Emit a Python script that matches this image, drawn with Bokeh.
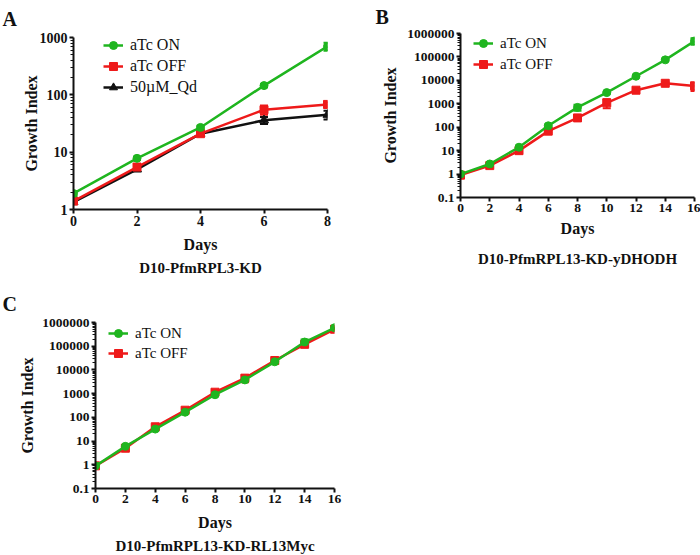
from bokeh.plotting import figure
from bokeh.models import (Range1d, FixedTicker, Legend, LegendItem, Whisker, TeeHead,
                          ColumnDataSource, Title)
from bokeh.layouts import column, row
from bokeh.embed import file_html
from bokeh.resources import INLINE

# ---------------- data ----------------
days_A = [0, 2, 4, 6, 8]
on_A = [1.9, 7.8, 27, 145, 700]
on_A_err = [0.2, 0.5, 2, 10, 110]
off_A = [1.4, 5.5, 21, 55, 68]
off_A_err = [0.1, 0.5, 1.5, 10, 8]
qd_A = [1.35, 5.0, 21, 36, 45]
qd_A_err = [0.1, 0.3, 1, 5, 8]

days_B = [0, 2, 4, 6, 8, 10, 12, 14, 16]
on_B = [1, 2.7, 14, 115, 700, 3000, 15000, 75000, 480000]
on_B_err = [0.05, 0.2, 2, 15, 200, 300, 1500, 8000, 150000]
off_B = [0.9, 2.3, 10, 68, 250, 1100, 3800, 7500, 5800]
off_B_err = [0.05, 0.2, 1, 8, 30, 450, 800, 1000, 2300]

days_C = [0, 2, 4, 6, 8, 10, 12, 14, 16]
on_C = [0.9, 6, 32, 165, 900, 3800, 22000, 150000, 600000]
on_C_err = [0.05, 0.6, 4, 20, 120, 600, 3000, 40000, 60000]
off_C = [0.9, 5, 40, 200, 1150, 4500, 25000, 120000, 520000]
off_C_err = [0.05, 0.8, 5, 25, 150, 1500, 3000, 20000, 50000]

yticks_A = [1, 10, 100, 1000]
yticks_A_labels = ["1", "10", "100", "1000"]
yticks_BC = [0.1, 1, 10, 100, 1000, 10000, 100000, 1000000]
yticks_BC_labels = ["0.1", "1", "10", "100", "1000", "10000", "100000", "1000000"]

GREEN = "#1fb51f"
RED = "#ee1a1a"
BLACK = "#111111"
SERIF = "Liberation Serif"


def minor_ticks(major):
    out = []
    for m in major[:-1]:
        for k in range(2, 10):
            out.append(m * k)
    return out


class Panel:
    def __init__(self, width, height, left, fw, top, fh, xmax, ymin, ymax,
                 xticks, yticks, ylabels, tick_fs, ylab_standoff, xlab_standoff):
        p = figure(width=width, height=height, y_axis_type="log",
                   x_range=Range1d(0, xmax), y_range=Range1d(ymin, ymax),
                   output_backend="svg", toolbar_location=None,
                   min_border_left=left, min_border_right=width - left - fw,
                   min_border_top=top, min_border_bottom=height - top - fh)
        try:
            p.frame_align = False
        except Exception:
            pass
        self.left = left
        p.outline_line_color = None
        p.xgrid.visible = False
        p.ygrid.visible = False
        p.background_fill_color = None
        p.border_fill_color = None
        p.xaxis.ticker = FixedTicker(ticks=xticks)
        p.yaxis.ticker = FixedTicker(ticks=yticks, minor_ticks=minor_ticks(yticks))
        p.yaxis.major_label_overrides = {t: l for t, l in zip(yticks, ylabels)}
        for ax in (p.xaxis[0], p.yaxis[0]):
            ax.axis_line_width = 2
            ax.axis_line_color = BLACK
            ax.major_tick_line_width = 2
            ax.major_tick_line_color = BLACK
            ax.major_tick_in = 0
            ax.major_tick_out = 4
            ax.minor_tick_in = 0
            ax.minor_tick_out = 3
            ax.minor_tick_line_width = 1
            ax.minor_tick_line_color = BLACK
            ax.major_label_text_font = SERIF
            ax.major_label_text_font_style = "bold"
            ax.major_label_text_font_size = tick_fs
            ax.major_label_text_color = BLACK
            ax.axis_label_text_font = SERIF
            ax.axis_label_text_font_style = "bold"
            ax.axis_label_text_font_size = "16px"
            ax.axis_label_text_color = BLACK
        p.xaxis.minor_tick_out = 0
        p.xaxis.major_label_standoff = 2
        p.xaxis.axis_label = "Days"
        p.xaxis.axis_label_standoff = xlab_standoff
        p.yaxis.axis_label = "Growth Index"
        p.yaxis.major_label_standoff = 2
        p.yaxis.axis_label_standoff = ylab_standoff
        self.p = p

    def titles(self, letter, letter_x, letter_standoff, title, title_offset,
               title_standoff):
        self.p.add_layout(Title(text=title, align="center", offset=title_offset,
                                standoff=title_standoff, text_font=SERIF,
                                text_font_style="bold", text_font_size="15px",
                                text_color=BLACK), "below")
        self.p.add_layout(Title(text=letter, align="left", vertical_align="top",
                                offset=letter_x - self.left,
                                standoff=letter_standoff, text_font=SERIF,
                                text_font_style="bold", text_font_size="20px",
                                text_color=BLACK), "above")

    def series(self, x, y, err, color, marker, size):
        src = ColumnDataSource(dict(x=x, y=y,
                                    lo=[a - e for a, e in zip(y, err)],
                                    hi=[a + e for a, e in zip(y, err)]))
        w = Whisker(source=src, base="x", lower="lo", upper="hi",
                    line_color=color, line_width=2,
                    upper_head=TeeHead(size=8, line_color=color, line_width=2),
                    lower_head=TeeHead(size=8, line_color=color, line_width=2))
        self.p.add_layout(w)
        ln = self.p.line("x", "y", source=src, line_color=color, line_width=2.5)
        sc = self.p.scatter("x", "y", source=src, marker=marker, size=size,
                            fill_color=color, line_color=color)
        return [ln, sc]

    def legend(self, items, vx, vy, font_size, spacing):
        lg = Legend(items=[LegendItem(label=l, renderers=r) for l, r in items],
                    location=(vx, vy), padding=0, margin=0, spacing=spacing,
                    glyph_width=20, glyph_height=20, label_height=20,
                    label_standoff=7, label_text_font=SERIF,
                    label_text_font_size=font_size, label_text_color=BLACK,
                    background_fill_alpha=0, border_line_color=None)
        self.p.add_layout(lg)


# ---------------- panel A ----------------
A = Panel(350, 280, 73, 254, 37, 172, 8, 1, 1000, days_A, yticks_A,
          yticks_A_labels, "14px", -3, 7)
rq = A.series(days_A, qd_A, qd_A_err, BLACK, "triangle", 9)
roff = A.series(days_A, off_A, off_A_err, RED, "square", 8)
ron = A.series(days_A, on_A, on_A_err, GREEN, "circle", 8)
A.legend([("aTc ON", ron), ("aTc OFF", roff), ("50\u00b5M_Qd", rq)], 30, 112, "16px", 1)
A.titles("A", 2, 12, "D10-PfmRPL3-KD", 3, 4)

# ---------------- panel B ----------------
B = Panel(350, 280, 110, 234, 33, 164, 16, 0.1, 1000000, days_B, yticks_BC,
          yticks_BC_labels, "13.5px", 5, 5)
roffB = B.series(days_B, off_B, off_B_err, RED, "square", 8)
ronB = B.series(days_B, on_B, on_B_err, GREEN, "circle", 8)
B.legend([("aTc ON", ronB), ("aTc OFF", roffB)], 13, 123, "15px", 1)
B.titles("B", 25, 8, "D10-PfmRPL13-KD-yDHODH", 0, 18)

# ---------------- panel C ----------------
C = Panel(350, 275, 95, 239, 42, 166, 16, 0.1, 1000000, days_C, yticks_BC,
          yticks_BC_labels, "13.5px", 3, 8)
roffC = C.series(days_C, off_C, off_C_err, RED, "square", 8)
ronC = C.series(days_C, on_C, on_C_err, GREEN, "circle", 8)
C.legend([("aTc ON", ronC), ("aTc OFF", roffC)], 13, 125, "15px", 0)
C.titles("C", 2, 12, "D10-PfmRPL13-KD-RL13Myc", -37, 4)

layout = column(row(A.p, B.p), C.p)
open("out.html", "w").write(file_html(layout, INLINE))
